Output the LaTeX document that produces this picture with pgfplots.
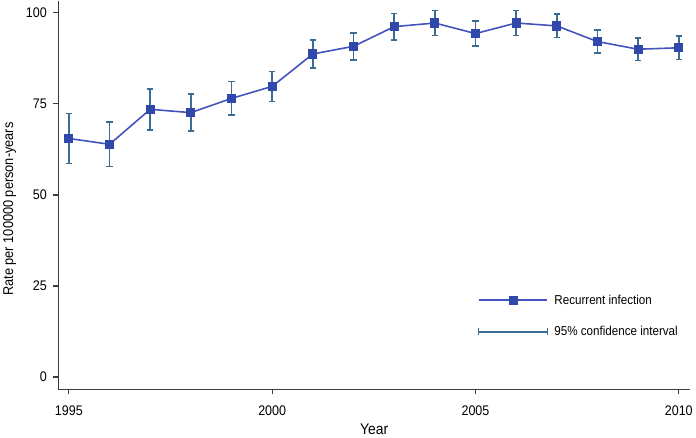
\documentclass[border=0pt]{standalone}
\usepackage{pgfplots}
\pgfplotsset{compat=1.18}
\usepackage{fontspec}
\setmainfont{Liberation Sans}[FakeStretch=0.9]
\definecolor{linecol}{RGB}{68,82,190}
\definecolor{markcol}{RGB}{48,72,170}
\definecolor{errcol}{RGB}{58,108,148}
\definecolor{axcol}{RGB}{60,60,60}
\begin{document}
\begin{tikzpicture}
\begin{axis}[
	scale only axis,
	width=634bp, height=390bp,
	xmin=1994.74, xmax=2010.28,
	ymin=-3.4, ymax=103.3,
	axis lines=left,
	axis line style={axcol, line width=1.6pt, -},
	xtick={1995,2000,2005,2010},
	ytick={0,25,50,75,100},
	tick style={axcol, line width=1.2pt},
	tick align=outside,
	major tick length=5bp,
	x tick label style={font=\fontsize{14}{16}\selectfont, yshift=-8pt},
	y tick label style={font=\fontsize{14}{16}\selectfont, xshift=-3pt},
	/pgf/number format/assume math mode=true,
	/pgf/number format/1000 sep={},
	xlabel={Year},
	ylabel={Rate per 100000 person-years},
	xlabel style={font=\fontsize{15.5}{17}\selectfont, yshift=-1pt},
	ylabel style={font=\fontsize{14.3}{16}\selectfont, yshift=3pt, xshift=-14bp},
	legend style={draw=none, fill=none, at={(axis cs:2005.05,23.2)}, anchor=north west,
		font=\fontsize{13}{15}\selectfont, row sep=17bp, column sep=4bp, inner sep=0pt},
	legend cell align=left,
]
\addplot[linecol, line width=1.6pt, mark=square*, mark size=3.8bp,
	mark options={markcol, fill=markcol},
	forget plot,
	error bars/.cd, y dir=both, y explicit,
	error bar style={errcol, line width=1.6pt},
	error mark options={errcol, line width=1.6pt, mark size=3.2bp, rotate=90}]
coordinates {
(1995,65.5) +- (0,6.9)
(1996,63.9) +- (0,6.1)
(1997,73.5) +- (0,5.6)
(1998,72.6) +- (0,5.1)
(1999,76.5) +- (0,4.6)
(2000,79.8) +- (0,4.1)
(2001,88.7) +- (0,3.8)
(2002,90.8) +- (0,3.7)
(2003,96.2) +- (0,3.6)
(2004,97.2) +- (0,3.4)
(2005,94.3) +- (0,3.4)
(2006,97.2) +- (0,3.4)
(2007,96.4) +- (0,3.2)
(2008,92.1) +- (0,3.1)
(2009,90.0) +- (0,3.1)
(2010,90.4) +- (0,3.2)
};
\addlegendimage{legend image code/.code={
	\draw[linecol, line width=2pt] (0,0) -- (69bp,0);
	\fill[markcol] (30.7bp,-3.8bp) rectangle (38.3bp,3.8bp);}}
\addlegendentry{Recurrent infection}
\addlegendimage{legend image code/.code={
	\draw[errcol, line width=1.8pt] (0,0) -- (69bp,0);
	\draw[errcol, line width=1.6pt] (0,-3.5bp) -- (0,3.5bp);
	\draw[errcol, line width=1.6pt] (69bp,-3.5bp) -- (69bp,3.5bp);}}
\addlegendentry{95\% confidence interval}
\end{axis}
\end{tikzpicture}
\end{document}
